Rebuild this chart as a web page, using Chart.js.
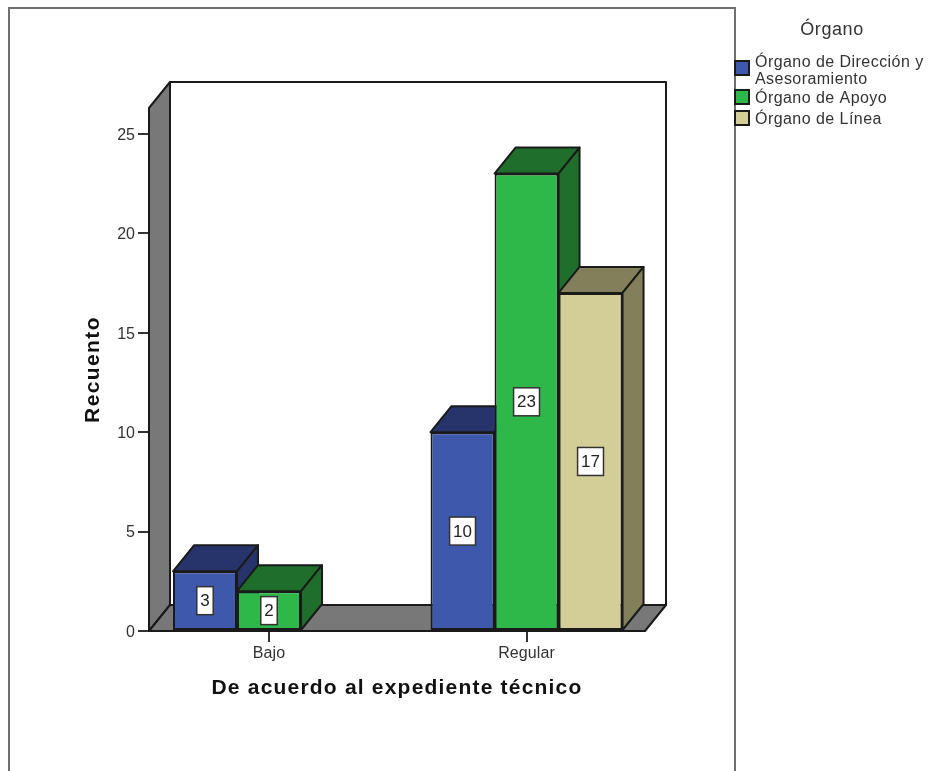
<!DOCTYPE html>
<html>
<head>
<meta charset="utf-8">
<script src="https://cdn.jsdelivr.net/npm/chart.js@4/dist/chart.umd.min.js"></script>
<style>
  html, body { margin: 0; padding: 0; background: #fff; overflow: hidden; }
  canvas { display: block; }
</style>
</head>
<body>
<canvas id="chart-organo" width="928" height="771"></canvas>
<script>
const categories = ['Bajo', 'Regular']
const y_ticks = [0, 5, 10, 15, 20, 25]
const series_names = ['Órgano de Dirección y Asesoramiento', 'Órgano de Apoyo', 'Órgano de Línea']
const values_direccion = [3, 10]
const values_apoyo = [2, 23]
const values_linea = [null, 17]
const front_colors = ['#3e58ac', '#2eb84a', '#d3ce97']
const side_colors = ['#26346b', '#1f6e2c', '#847f5b']

const font_name = '"Liberation Sans", Arial, sans-serif'
const line_color = '#1a1a1a'
const depth_x = 21
const depth_y = 26

function polygon(ctx, points, fill, stroke_width){
  ctx.beginPath()
  points.forEach((p, i) => i ? ctx.lineTo(p[0], p[1]) : ctx.moveTo(p[0], p[1]))
  ctx.closePath()
  if (fill){
    ctx.fillStyle = fill
    ctx.fill()
  }
  ctx.strokeStyle = line_color
  ctx.lineWidth = stroke_width
  ctx.lineJoin = 'round'
  ctx.stroke()
}

// the reference text is set wider than the font, so space it out while the scale draws
function spaced(scale, method, spacing){
  if (scale['_spaced_' + method]) return
  scale['_spaced_' + method] = true
  const original = scale[method]
  scale[method] = function(...args){
    this.ctx.letterSpacing = spacing
    original.apply(this, args)
    this.ctx.letterSpacing = '0px'
  }
}

// outer frame of the output panel, open at the bottom
const frame_plugin = {
  id: 'frame',
  beforeDraw(chart){
    const ctx = chart.ctx
    ctx.save()
    ctx.strokeStyle = '#707070'
    ctx.lineWidth = 2
    ctx.beginPath()
    ctx.moveTo(9, 771)
    ctx.lineTo(9, 8)
    ctx.lineTo(735, 8)
    ctx.lineTo(735, 771)
    ctx.stroke()
    ctx.restore()
  }
}

// left wall, floor and back wall of the 3d box
const walls_plugin = {
  id: 'walls',
  beforeDatasetsDraw(chart){
    const ctx = chart.ctx
    const a = chart.chartArea
    ctx.save()
    polygon(ctx, [[a.left + depth_x, a.top - depth_y], [a.right + depth_x, a.top - depth_y],
      [a.right + depth_x, a.bottom - depth_y], [a.left + depth_x, a.bottom - depth_y]], '#fff', 2)
    polygon(ctx, [[a.left, a.bottom], [a.left + depth_x, a.bottom - depth_y],
      [a.left + depth_x, a.top - depth_y], [a.left, a.top]], '#787878', 2)
    polygon(ctx, [[a.left, a.bottom], [a.right, a.bottom],
      [a.right + depth_x, a.bottom - depth_y], [a.left + depth_x, a.bottom - depth_y]], '#787878', 2)
    ctx.restore()
  }
}

// bars have to paint left to right so each one covers its neighbour's side face,
// the library goes the other way, so its pass is cancelled and redone here
const bars3d_plugin = {
  id: 'bars3d',
  beforeDatasetDraw(){
    return false
  },
  afterDatasetsDraw(chart){
    const ctx = chart.ctx
    chart.data.datasets.forEach((dataset, i) => {
      const meta = chart.getDatasetMeta(i)
      ctx.save()
      meta.data.forEach((bar, j) => {
        if (dataset.data[j].y === null) return
        const left = bar.x - bar.width / 2
        const right = bar.x + bar.width / 2
        polygon(ctx, [[left, bar.y], [left + depth_x, bar.y - depth_y],
          [right + depth_x, bar.y - depth_y], [right, bar.y]], side_colors[i], 2)
        polygon(ctx, [[right, bar.y], [right + depth_x, bar.y - depth_y],
          [right + depth_x, bar.base - depth_y], [right, bar.base]], side_colors[i], 2)
      })
      ctx.restore()
      meta.controller.draw()
    })
  }
}

// white boxes with the count in the middle of each bar
const labels_plugin = {
  id: 'value_labels',
  afterDatasetsDraw(chart){
    const ctx = chart.ctx
    ctx.save()
    ctx.font = '17px ' + font_name
    ctx.textAlign = 'center'
    ctx.textBaseline = 'middle'
    chart.data.datasets.forEach((dataset, i) => {
      chart.getDatasetMeta(i).data.forEach((bar, j) => {
        if (dataset.data[j].y === null) return
        const text = String(dataset.data[j].y)
        const w = ctx.measureText(text).width + 7
        const mid = (bar.y + bar.base) / 2
        ctx.fillStyle = '#fff'
        ctx.strokeStyle = '#333'
        ctx.lineWidth = 1.5
        ctx.fillRect(bar.x - w / 2, mid - 14, w, 28)
        ctx.strokeRect(bar.x - w / 2, mid - 14, w, 28)
        ctx.fillStyle = '#222'
        ctx.fillText(text, bar.x, mid + 1)
      })
    })
    ctx.restore()
  }
}

// legend with a wrapped first entry, swatches sit on top of the frame
const legend_plugin = {
  id: 'side_legend',
  afterDraw(chart){
    const ctx = chart.ctx
    const rows = [[61, ['Órgano de Dirección y', 'Asesoramiento']], [90, ['Órgano de Apoyo']], [111, ['Órgano de Línea']]]
    ctx.save()
    ctx.fillStyle = '#333'
    ctx.textBaseline = 'middle'
    ctx.font = '18px ' + font_name
    ctx.textAlign = 'center'
    ctx.letterSpacing = '0.6px'
    ctx.fillText('Órgano', 832, 30)
    ctx.textAlign = 'left'
    ctx.font = '16px ' + font_name
    ctx.letterSpacing = '0.45px'
    rows.forEach((row, i) => {
      const y = row[0]
      ctx.fillStyle = front_colors[i]
      ctx.strokeStyle = line_color
      ctx.lineWidth = 2
      ctx.fillRect(735, y, 14, 14)
      ctx.strokeRect(735, y, 14, 14)
      ctx.fillStyle = '#333'
      row[1].forEach((line, k) => ctx.fillText(line, 755, y + (row[1].length > 1 ? 2 : 9) + k * 17))
    })
    ctx.restore()
  }
}

function bar_points(values){
  return categories.map((name, i) => ({ x: i, y: values[i] }))
}

const all_values = [values_direccion, values_apoyo, values_linea]

new Chart(document.getElementById('chart-organo'), {
  type: 'bar',
  data: {
    datasets: all_values.map((values, i) => ({
      label: series_names[i],
      data: bar_points(values),
      backgroundColor: front_colors[i],
      borderColor: line_color,
      borderWidth: 2,
      borderSkipped: false,
    }))
  },
  options: {
    responsive: false,
    animation: false,
    events: [],
    categoryPercentage: 0.7456,
    barPercentage: 1,
    layout: {
      padding: { left: 0, top: 108, right: 283, bottom: 0 }
    },
    plugins: {
      legend: { display: false },
      tooltip: { enabled: false },
    },
    scales: {
      x: {
        type: 'linear',
        offset: false,
        min: -0.466,
        max: 1.46,
        afterBuildTicks: scale => { scale.ticks = categories.map((name, i) => ({ value: i })) },
        afterFit: scale => {
          scale.height = 140
          spaced(scale, 'drawTitle', '1.2px')
          spaced(scale, 'drawLabels', '0.1px')
        },
        grid: { offset: false, drawOnChartArea: false, tickLength: 11, color: '#333', lineWidth: 2 },
        border: { display: false },
        ticks: {
          autoSkip: false,
          maxRotation: 0,
          padding: 2,
          color: '#333',
          font: { family: font_name, size: 16 },
          callback: value => categories[value],
        },
        title: {
          display: true,
          text: 'De acuerdo al expediente técnico',
          color: '#111',
          padding: { top: 0, bottom: 70 },
          font: { family: font_name, size: 21, weight: 'bold' },
        },
      },
      y: {
        min: 0,
        max: 26.3,
        afterBuildTicks: scale => { scale.ticks = y_ticks.map(value => ({ value })) },
        afterFit: scale => {
          scale.width = 149
          spaced(scale, 'drawTitle', '1.4px')
        },
        grid: { drawOnChartArea: false, tickLength: 11, color: '#333', lineWidth: 2 },
        border: { display: false },
        ticks: {
          padding: 3,
          labelOffset: 1.5,
          color: '#333',
          font: { family: font_name, size: 16 },
        },
        title: {
          display: true,
          text: 'Recuento',
          color: '#111',
          padding: { top: 81, bottom: 0 },
          font: { family: font_name, size: 21, weight: 'bold' },
        },
      },
    },
  },
  plugins: [frame_plugin, walls_plugin, bars3d_plugin, labels_plugin, legend_plugin],
})
</script>
</body>
</html>
